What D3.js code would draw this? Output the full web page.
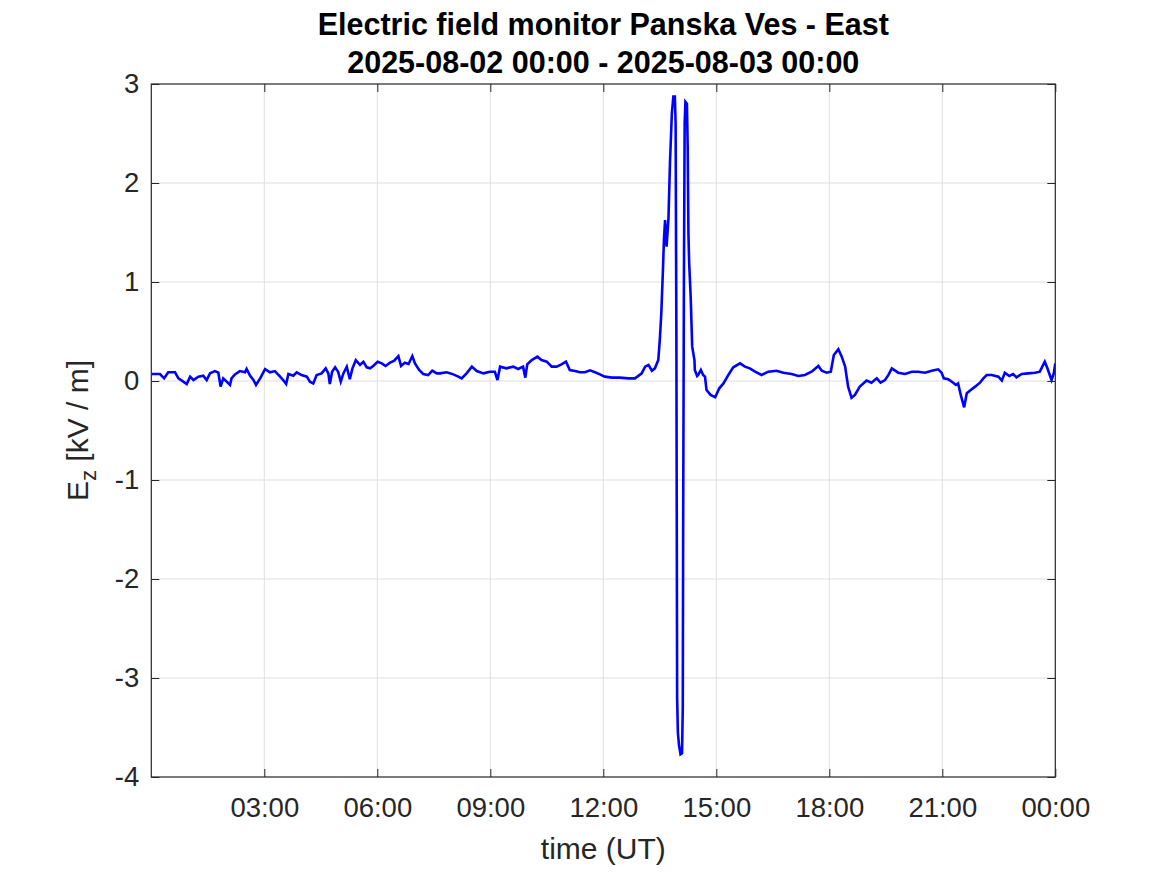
<!DOCTYPE html>
<html>
<head>
<meta charset="utf-8">
<script src="https://cdn.jsdelivr.net/npm/d3@7"></script>
<style>
  html, body { margin: 0; padding: 0; background: #ffffff; }
  svg { display: block; }
</style>
</head>
<body>
<svg id="chart" width="1167" height="875"></svg>
<script>
// ---- Data (time in hours UT since 2025-08-02 00:00, Ez in kV/m) ----
const chartTitle = ["Electric field monitor Panska Ves - East", "2025-08-02 00:00 - 2025-08-03 00:00"];
const xLabel = "time (UT)";
const xTicks = [3, 6, 9, 12, 15, 18, 21, 24];
const xTickLabels = ["03:00", "06:00", "09:00", "12:00", "15:00", "18:00", "21:00", "00:00"];
const yTicks = [-4, -3, -2, -1, 0, 1, 2, 3];
const yTickLabels = ["-4", "-3", "-2", "-1", "0", "1", "2", "3"];

const hours = [
  0.00, 0.23, 0.34, 0.45, 0.63, 0.72, 0.85, 0.94, 1.03, 1.12, 1.25, 1.38, 1.47, 1.56, 1.69, 1.78, 1.84, 1.91, 2.00, 2.09,
  2.13, 2.22, 2.35, 2.49, 2.53, 2.62, 2.71, 2.78, 2.89, 3.02, 3.15, 3.28, 3.42, 3.50, 3.58, 3.64, 3.77,
  3.86, 3.99, 4.13, 4.21, 4.30, 4.39, 4.52, 4.63, 4.70, 4.74, 4.80, 4.88, 4.96, 5.03, 5.10, 5.19, 5.27, 5.34, 5.43,
  5.54, 5.63, 5.72, 5.81, 5.89, 6.01, 6.12, 6.22, 6.34, 6.45, 6.56, 6.63, 6.73, 6.83, 6.93, 7.00, 7.11, 7.22, 7.35,
  7.46, 7.58, 7.66, 7.84, 8.02, 8.15, 8.24, 8.37, 8.51, 8.64, 8.82, 8.99, 9.12, 9.19, 9.26, 9.43, 9.61, 9.74, 9.87,
  9.93, 9.98, 10.10, 10.25, 10.36, 10.50, 10.63, 10.76, 10.89, 11.01, 11.11, 11.25, 11.38, 11.51, 11.65, 11.78, 11.91,
  12.04, 12.23, 12.44, 12.66, 12.84, 13.02, 13.11, 13.20, 13.29, 13.37, 13.46, 13.50, 13.54, 13.58, 13.61, 13.64,
  13.68, 13.73, 13.77, 13.82, 13.86, 13.90, 13.92, 13.94, 13.96, 13.98, 14.01, 14.05, 14.09, 14.11, 14.12, 14.14,
  14.16, 14.18, 14.22, 14.24, 14.26, 14.28, 14.32, 14.36, 14.42, 14.43, 14.49, 14.52, 14.59, 14.65, 14.70, 14.74,
  14.85, 14.97, 15.08, 15.19, 15.32, 15.45, 15.63, 15.76, 15.89, 16.03, 16.20, 16.38, 16.60, 16.78, 17.00, 17.18,
  17.35, 17.53, 17.71, 17.80, 17.93, 18.04, 18.12, 18.24, 18.33, 18.42, 18.50, 18.59, 18.68, 18.81, 18.99, 19.12,
  19.26, 19.36, 19.48, 19.57, 19.66, 19.83, 20.01, 20.19, 20.36, 20.54, 20.72, 20.89, 20.98, 21.04, 21.16, 21.29,
  21.36, 21.42, 21.49, 21.58, 21.65, 21.73, 21.87, 22.00, 22.09, 22.18, 22.31, 22.49, 22.58, 22.66, 22.78, 22.88,
  22.97, 23.11, 23.28, 23.46, 23.59, 23.72, 23.79, 23.90, 23.96, 24.00
];
const ez = [
  0.071, 0.070, 0.027, 0.088, 0.088, 0.027, -0.007, -0.030, 0.044, 0.010, 0.044, 0.054, 0.010, 0.078, 0.100, 0.084, -0.057, 0.027, -0.007, -0.040,
  0.027, 0.067, 0.100, 0.088, 0.121, 0.054, 0.010, -0.040, 0.027, 0.121, 0.088, 0.100, 0.044, 0.010, -0.030, 0.071, 0.054,
  0.088, 0.060, 0.044, -0.007, -0.024, 0.060, 0.077, 0.128, 0.077, -0.030, 0.094, 0.138, 0.094, -0.007, 0.077, 0.145, 0.017, 0.128, 0.210,
  0.162, 0.195, 0.138, 0.128, 0.152, 0.195, 0.178, 0.152, 0.185, 0.205, 0.252, 0.152, 0.185, 0.172, 0.252, 0.178, 0.111, 0.071, 0.060,
  0.104, 0.077, 0.077, 0.088, 0.067, 0.044, 0.027, 0.077, 0.145, 0.101, 0.077, 0.094, 0.094, 0.010, 0.145, 0.128, 0.145, 0.121, 0.145,
  0.034, 0.168, 0.212, 0.246, 0.212, 0.195, 0.145, 0.145, 0.168, 0.195, 0.111, 0.101, 0.088, 0.088, 0.108, 0.088, 0.067,
  0.044, 0.034, 0.034, 0.027, 0.027, 0.077, 0.145, 0.162, 0.104, 0.128, 0.212, 0.414, 0.683, 1.087, 1.424, 1.626,
  1.357, 1.643, 2.199, 2.704, 2.872, 2.872, 2.600, 0.500, -3.200, -3.550, -3.680, -3.770, -3.760, -3.300, -1.500, 1.000,
  2.600, 2.820, 2.800, 2.370, 1.490, 1.190, 0.850, 0.347, 0.212, 0.111, 0.050, 0.061, 0.111, 0.061, 0.044, -0.091,
  -0.141, -0.165, -0.074, -0.024, 0.061, 0.138, 0.178, 0.145, 0.128, 0.094, 0.061, 0.094, 0.104, 0.084, 0.071, 0.051,
  0.061, 0.094, 0.152, 0.104, 0.084, 0.094, 0.263, 0.320, 0.246, 0.145, -0.057, -0.170, -0.141, -0.057, 0.004, -0.017,
  0.027, -0.017, 0.010, 0.061, 0.128, 0.084, 0.071, 0.094, 0.094, 0.084, 0.104, 0.118, 0.084, 0.027, 0.017, -0.017,
  -0.040, -0.024, -0.141, -0.266, -0.124, -0.098, -0.057, -0.017, 0.027, 0.061, 0.061, 0.044, 0.004, 0.084, 0.051, 0.071,
  0.037, 0.071, 0.077, 0.084, 0.094, 0.195, 0.128, 0.010, 0.077, 0.178
];

// ---- Layout ----
const W = 1167, H = 875;
const plot = { left: 151.3, right: 1055.3, top: 84, bottom: 777 };
const axisColor = "#262626";
const fontFamily = "'Liberation Sans', Arial, Helvetica, sans-serif";

const svg = d3.select("#chart");

const x = d3.scaleLinear().domain([0, 24]).range([plot.left, plot.right]);
const y = d3.scaleLinear().domain([-4, 3]).range([plot.bottom, plot.top]);

// Grid
const grid = svg.append("g").attr("class", "grid");
grid.selectAll("line.vx").data(xTicks.filter(t => t < 24)).enter().append("line")
  .attr("x1", d => x(d)).attr("x2", d => x(d))
  .attr("y1", plot.top).attr("y2", plot.bottom)
  .attr("stroke", "#dfdfdf").attr("stroke-width", 1);
grid.selectAll("line.hy").data(yTicks.filter(t => t > -4 && t < 3)).enter().append("line")
  .attr("x1", plot.left).attr("x2", plot.right)
  .attr("y1", d => y(d)).attr("y2", d => y(d))
  .attr("stroke", "#dfdfdf").attr("stroke-width", 1);

// Data line
const clipId = "plotclip";
svg.append("clipPath").attr("id", clipId).append("rect")
  .attr("x", plot.left).attr("y", plot.top - 2)
  .attr("width", plot.right - plot.left).attr("height", plot.bottom - plot.top + 4);

const series = hours.map((h, i) => ({ h: h, v: ez[i] }));
svg.append("path")
  .datum(series)
  .attr("clip-path", `url(#${clipId})`)
  .attr("fill", "none")
  .attr("stroke", "#0000ff")
  .attr("stroke-width", 2.6)
  .attr("stroke-linejoin", "miter")
  .attr("d", d3.line().x(d => x(d.h)).y(d => y(d.v)));

// Axes (ticks inside, box on)
const tickLen = 8;
const fmtX = d => xTickLabels[xTicks.indexOf(d)];
const fmtY = d => yTickLabels[yTicks.indexOf(d)];

const xAxisB = d3.axisBottom(x).tickValues(xTicks).tickFormat(fmtX).tickSizeInner(-tickLen).tickSizeOuter(0).tickPadding(20);
const xAxisT = d3.axisTop(x).tickValues(xTicks).tickFormat("").tickSizeInner(-tickLen).tickSizeOuter(0);
const yAxisL = d3.axisLeft(y).tickValues(yTicks).tickFormat(fmtY).tickSizeInner(-tickLen).tickSizeOuter(0).tickPadding(12);
const yAxisR = d3.axisRight(y).tickValues(yTicks).tickFormat("").tickSizeInner(-tickLen).tickSizeOuter(0);

function styleAxis(g) {
  g.select(".domain").remove();
  g.selectAll(".tick line").attr("stroke", axisColor).attr("stroke-width", 1);
  g.selectAll(".tick text").attr("fill", axisColor).style("font-family", fontFamily).style("font-size", "27.5px");
}

svg.append("g").attr("transform", `translate(0,${plot.bottom})`).call(xAxisB).call(styleAxis);
svg.append("g").attr("transform", `translate(0,${plot.top})`).call(xAxisT).call(styleAxis);
svg.append("g").attr("transform", `translate(${plot.left},0)`).call(yAxisL).call(styleAxis);
svg.append("g").attr("transform", `translate(${plot.right},0)`).call(yAxisR).call(styleAxis);

// Box
svg.append("rect")
  .attr("x", plot.left).attr("y", plot.top)
  .attr("width", plot.right - plot.left).attr("height", plot.bottom - plot.top)
  .attr("fill", "none").attr("stroke", axisColor).attr("stroke-width", 1.2);

// Title
const cx = (plot.left + plot.right) / 2;
svg.append("text").attr("x", cx).attr("y", 35).attr("text-anchor", "middle")
  .style("font-family", fontFamily).style("font-size", "30.5px").style("font-weight", "bold").attr("fill", "#000")
  .text(chartTitle[0]);
svg.append("text").attr("x", cx).attr("y", 73).attr("text-anchor", "middle")
  .style("font-family", fontFamily).style("font-size", "30.5px").style("font-weight", "bold").attr("fill", "#000")
  .text(chartTitle[1]);

// X label
svg.append("text").attr("x", cx).attr("y", 859).attr("text-anchor", "middle")
  .style("font-family", fontFamily).style("font-size", "30px").attr("fill", axisColor)
  .text(xLabel);

// Y label with subscript
const yl = svg.append("text")
  .attr("transform", `translate(88,${(plot.top + plot.bottom) / 2}) rotate(-90)`)
  .attr("text-anchor", "middle")
  .style("font-family", fontFamily).style("font-size", "30px").attr("fill", axisColor);
yl.append("tspan").text("E");
yl.append("tspan").attr("dy", 8).style("font-size", "22px").text("z");
yl.append("tspan").attr("dy", -8).text(" [kV / m]");
</script>
</body>
</html>
